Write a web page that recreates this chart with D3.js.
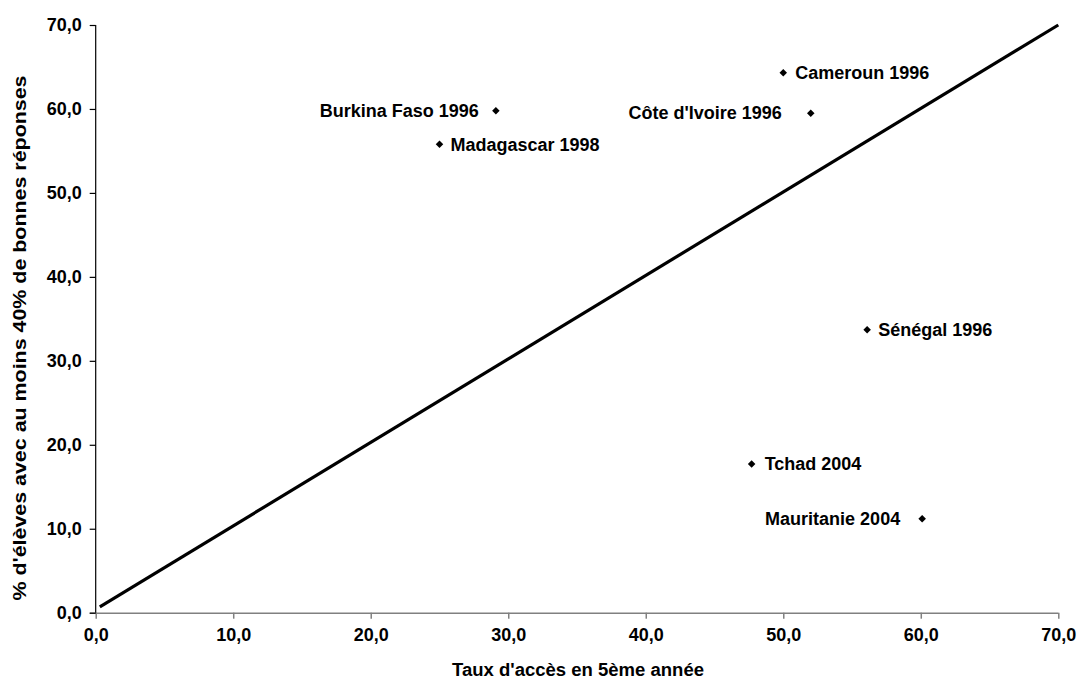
<!DOCTYPE html>
<html><head><meta charset="utf-8">
<script src="https://cdn.jsdelivr.net/npm/d3@7"></script>
<style>body{margin:0;background:#fff}svg{display:block}text{font-family:"Liberation Sans",Arial,sans-serif;font-weight:bold}</style>
</head><body>
<svg id="c" width="1080" height="681"></svg>
<script>
const countries = ["Burkina Faso 1996","Madagascar 1998","Cameroun 1996","Côte d'Ivoire 1996","Sénégal 1996","Tchad 2004","Mauritanie 2004"];
const accessRate = [29.1, 25.0, 50.0, 52.0, 56.1, 47.7, 60.1];
const score40 = [59.8, 55.8, 64.3, 59.5, 33.7, 17.7, 11.2];
const labelSide = ["left","right","right","left","right","right","left"];
const labelGap = [17, 11, 12, 29, 11, 13, 22];
const refLineX = [0.3, 70];
const refLineY = [0.7, 70];
const ticks = [0,10,20,30,40,50,60,70];
const xTitle = "Taux d'accès en 5ème année";
const yTitle = "% d'élèves avec au moins 40% de bonnes réponses";

const svg = d3.select("#c");
const m = {l:95.7, r:1080-1058.3, t:25, b:681-612.7};
const W = 1080, H = 681;
const x = d3.scaleLinear().domain([0,70]).range([m.l, W-m.r]);
const y = d3.scaleLinear().domain([0,70]).range([H-m.b, m.t]);
const fmt = d => d3.format(".1f")(d).replace(".", ",");

// x axis
const gx = svg.append("g").attr("transform",`translate(0,${y(0)})`)
  .call(d3.axisBottom(x).tickValues(ticks).tickFormat(fmt).tickSize(6).tickPadding(10));
gx.selectAll("path,line").attr("stroke","#808080").attr("stroke-width",1.5);
gx.select(".domain").attr("d",`M${x(0)-6},0.5H${x(70)}`);
gx.selectAll("text").attr("font-size",18).attr("fill","#000").attr("font-family","Liberation Sans, Arial").attr("font-weight","bold");

// y axis
const gy = svg.append("g").attr("transform",`translate(${x(0)},0)`)
  .call(d3.axisLeft(y).tickValues(ticks).tickFormat(fmt).tickSize(6).tickPadding(8));
gy.selectAll("path,line").attr("stroke","#000").attr("stroke-width",1.2);
gy.select(".domain").attr("d",`M0,${y(70)}V${y(0)}`);
gy.selectAll("text").attr("font-size",18).attr("fill","#000").attr("font-family","Liberation Sans, Arial").attr("font-weight","bold");

// reference line
svg.append("line")
  .attr("x1",x(refLineX[0])).attr("y1",y(refLineY[0]))
  .attr("x2",x(refLineX[1])).attr("y2",y(refLineY[1]))
  .attr("stroke","#000").attr("stroke-width",3.2);

// points
const data = countries.map((c,i)=>({c, x:accessRate[i], y:score40[i], side:labelSide[i], gap:labelGap[i]}));
const sym = d3.symbol().type(d3.symbolDiamond2).size(36);
svg.selectAll("path.pt").data(data).join("path").attr("class","pt")
  .attr("d",sym).attr("transform",d=>`translate(${x(d.x)},${y(d.y)})`).attr("fill","#000");
svg.selectAll("text.lbl").data(data).join("text").attr("class","lbl")
  .attr("x",d=> d.side==="left" ? x(d.x)-d.gap : x(d.x)+d.gap)
  .attr("y",d=>y(d.y)).attr("dy","0.35em")
  .attr("text-anchor",d=>d.side==="left"?"end":"start")
  .attr("font-size",18).text(d=>d.c);

// titles
svg.append("text").attr("x",578).attr("y",676).attr("text-anchor","middle")
  .attr("font-size",18).attr("textLength",252).attr("lengthAdjust","spacingAndGlyphs").text(xTitle);
svg.append("text").attr("transform",`translate(26,${338}) rotate(-90)`)
  .attr("text-anchor","middle").attr("font-size",18.5)
  .attr("textLength",525).attr("lengthAdjust","spacingAndGlyphs").text(yTitle);
</script>
</body></html>
